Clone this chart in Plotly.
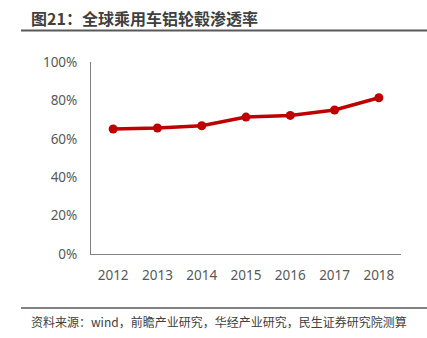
import plotly.graph_objects as go

years = ["2012", "2013", "2014", "2015", "2016", "2017", "2018"]
penetration = [0.651, 0.656, 0.668, 0.713, 0.722, 0.750, 0.814]
y_ticks = [0, 0.2, 0.4, 0.6, 0.8, 1.0]
y_tick_labels = ["0%", "20%", "40%", "60%", "80%", "100%"]
title_text = "图21：全球乘用车铝轮毂渗透率"
source_text = "资料来源：wind，前瞻产业研究，华经产业研究，民生证券研究院测算"

fig = go.Figure()
fig.add_trace(go.Scatter(
    x=years, y=penetration, mode="lines+markers",
    line=dict(color="#C00000", width=3.5),
    marker=dict(color="#C00000", size=9),
    hoverinfo="skip", showlegend=False,
))

L, R, T, B = 91, 26, 62, 84
W, H = 427, 338
pw = W - L - R
ph = H - T - B

def px(x):
    return (x - L) / pw

def py(y):
    return (H - B - y) / ph

fig.update_layout(
    width=W, height=H,
    margin=dict(l=L, r=R, t=T, b=B),
    plot_bgcolor="white", paper_bgcolor="white",
    font=dict(family="Noto Sans, Noto Sans CJK SC", color="#595959", size=13),
    xaxis=dict(type="category", range=[-0.5, 6.5], showgrid=False,
               showline=True, linecolor="#7f7f7f", linewidth=1,
               ticks="outside", ticklen=9, tickcolor="rgba(0,0,0,0)",
               tickfont=dict(size=13.5, color="#595959"), fixedrange=True),
    yaxis=dict(range=[0, 1], tickvals=y_ticks, ticktext=y_tick_labels,
               showgrid=False, zeroline=False, showline=True,
               linecolor="#7f7f7f", linewidth=1,
               ticks="outside", ticklen=10, tickcolor="rgba(0,0,0,0)",
               tickfont=dict(size=13.5, color="#595959"), fixedrange=True),
    shapes=[
        dict(type="line", xref="paper", yref="paper", x0=px(21), x1=px(427),
             y0=py(30.5), y1=py(30.5), line=dict(color="#595959", width=2)),
        dict(type="line", xref="paper", yref="paper", x0=px(21), x1=px(427),
             y0=py(308), y1=py(308), line=dict(color="#595959", width=1.5)),
    ],
    annotations=[
        dict(text="<b>" + title_text + "</b>", xref="paper", yref="paper",
             x=px(29), y=py(18), xanchor="left", yanchor="middle", showarrow=False,
             font=dict(family="Noto Sans CJK SC", size=16, color="#404040")),
        dict(text=source_text, xref="paper", yref="paper",
             x=px(29), y=py(321), xanchor="left", yanchor="middle", showarrow=False,
             font=dict(family="Noto Sans CJK SC", size=12, color="#404040")),
    ],
)

fig.write_html("out.html", config={"displayModeBar": False})
